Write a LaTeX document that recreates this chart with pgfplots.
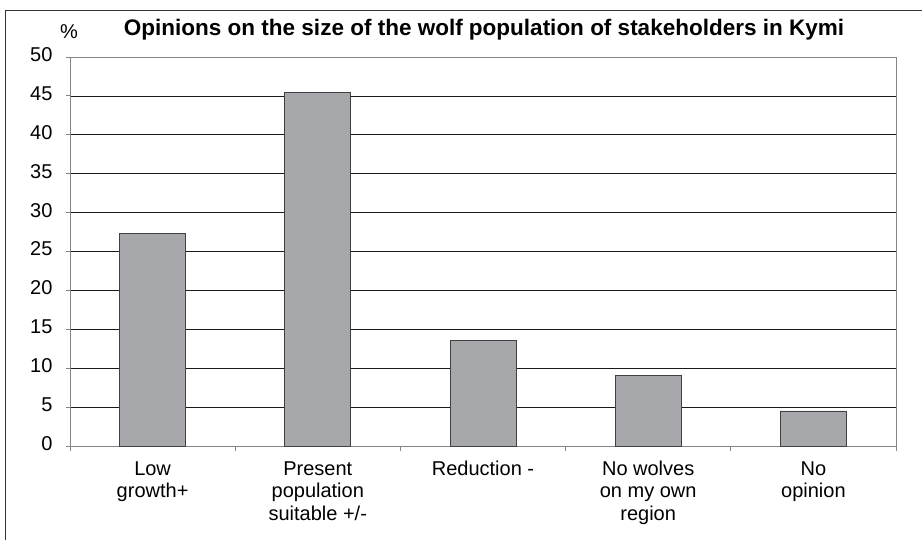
\documentclass[border=0pt]{standalone}
\usepackage{pgfplots}
\pgfplotsset{compat=1.18}
\usepackage{fontspec}
\setmainfont{Liberation Sans}
\definecolor{barfill}{HTML}{A7A8AC}
\definecolor{baredge}{HTML}{404040}
\definecolor{boxgray}{HTML}{858585}
\begin{document}
\begin{tikzpicture}
% fixed page: 922 x 540 bp, plot area lower-left at origin
\useasboundingbox (-70bp,-94bp) rectangle (852bp,446bp);
% outer frame (cut off on the right and at the bottom)
\draw[color=black!80, line width=0.9bp] (-65bp,-100bp) -- (-65bp,436bp) -- (860bp,436bp);

\begin{axis}[
  at={(0,0)}, anchor=south west,
  scale only axis,
  width=826bp, height=389bp,
  xmin=-0.5, xmax=4.5,
  ymin=0, ymax=50,
  ytick={0,5,...,50},
  xtick={0,...,4},
  xticklabels={Low\\growth+, Present\\population\\suitable +/-, Reduction -, No wolves\\on my own\\region, No\\opinion},
  minor xtick={-0.5,0.5,1.5,2.5,3.5,4.5},
  major x tick style={draw=none},
  xtick pos=bottom, ytick pos=left,
  tick align=outside,
  major tick length=4bp, minor tick length=5bp,
  tick style={color=boxgray, line width=0.8bp},
  axis line style={color=boxgray, line width=0.8bp},
  ymajorgrids,
  grid style={color=black!90, line width=0.7bp},
  /pgf/number format/assume math mode=true,
  typeset ticklabels with strut,
  yticklabel style={font=\fontsize{20bp}{22.5bp}\selectfont, xshift=-10bp},
  xticklabel style={font=\fontsize{20bp}{22.5bp}\selectfont, align=center, yshift=-6bp},
  clip=false,
]
\addplot[ybar, bar width=66bp, fill=barfill, draw=baredge, line width=0.8bp]
  coordinates {(0,27.3) (1,45.5) (2,13.6) (3,9.1) (4,4.5)};
\end{axis}

\node[font=\fontsize{22.5bp}{26bp}\selectfont\bfseries] at (414bp,416bp)
  {Opinions on the size of the wolf population of stakeholders in Kymi};
\node[font=\fontsize{20bp}{22bp}\selectfont] at (-1bp,414bp) {\%};
\end{tikzpicture}
\end{document}
